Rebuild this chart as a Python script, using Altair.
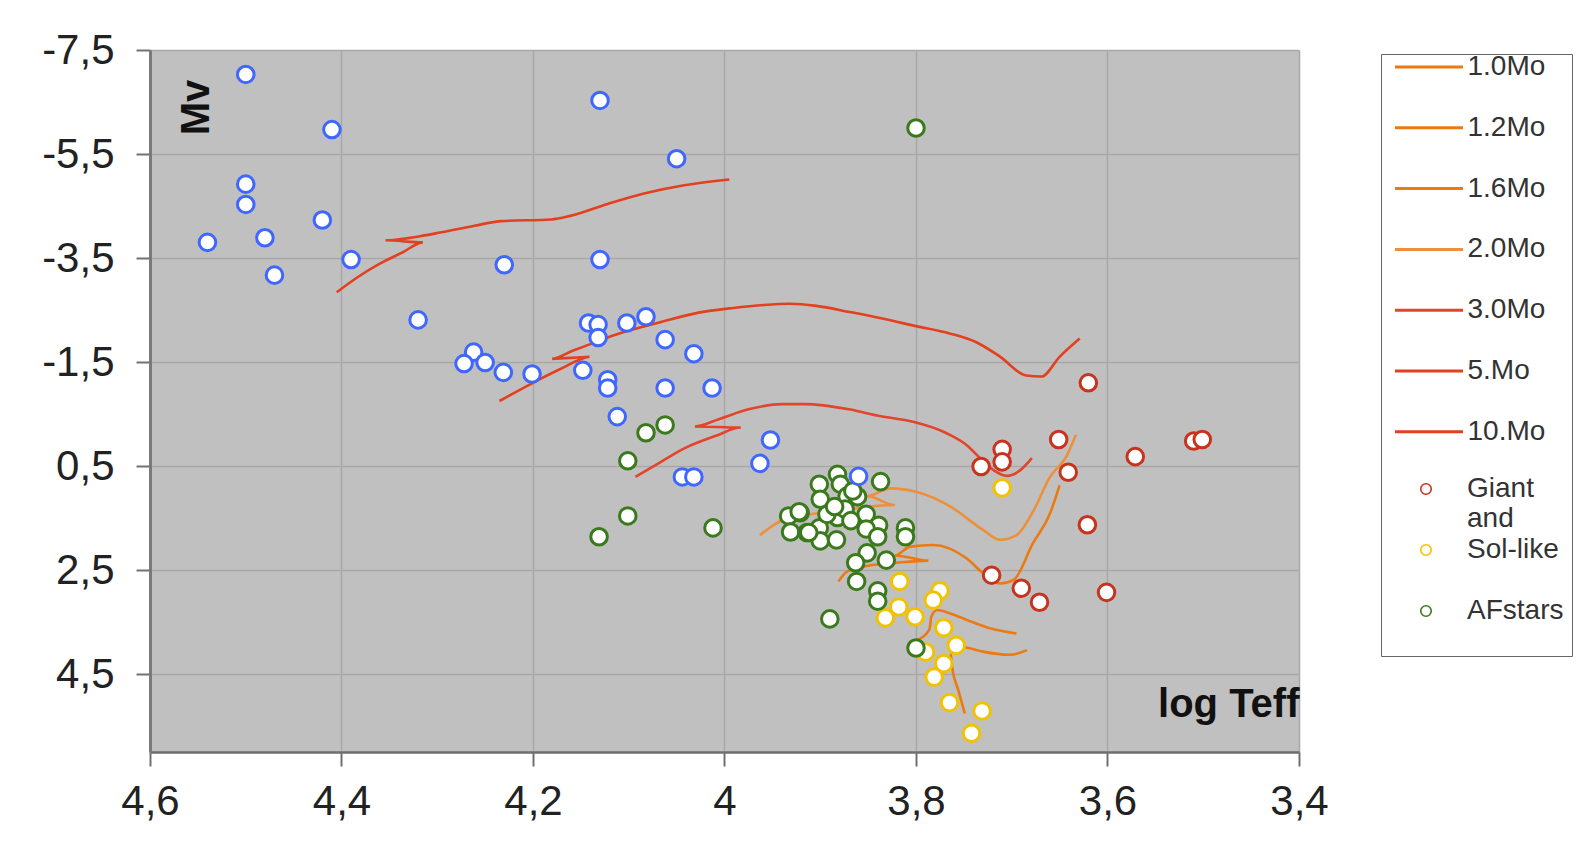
import altair as alt
import pandas as pd

# ---------------- data ----------------
track_names = ["1.0Mo", "1.2Mo", "1.6Mo", "2.0Mo", "3.0Mo", "5.Mo", "10.Mo"]
track_colors = ["#EC7A12", "#EC7A12", "#EC7A12", "#EE8F3C", "#E2452A", "#E2401F", "#E2401F"]

t10_logT = [4.405, 4.384, 4.360, 4.336, 4.315, 4.354, 4.318, 4.297, 4.261, 4.233, 4.181, 4.161, 4.122, 4.082, 4.042, 3.995]
t10_Mv = [-2.84, -3.12, -3.39, -3.61, -3.80, -3.84, -3.92, -3.99, -4.12, -4.21, -4.24, -4.31, -4.54, -4.75, -4.90, -5.01]

t5_logT = [4.235, 4.200, 4.172, 4.141, 4.180, 4.158, 4.145, 4.113, 4.068, 4.027, 3.991, 3.956, 3.932, 3.904, 3.869, 3.834, 3.800, 3.765, 3.737, 3.712, 3.685, 3.669, 3.650, 3.629]
t5_Mv = [-0.75, -1.10, -1.36, -1.60, -1.56, -1.72, -1.81, -2.03, -2.26, -2.45, -2.54, -2.60, -2.62, -2.58, -2.46, -2.33, -2.19, -2.05, -1.88, -1.60, -1.24, -1.22, -1.60, -1.95]

t3_logT = [4.093, 4.068, 4.044, 4.009, 3.983, 4.031, 4.006, 3.975, 3.940, 3.916, 3.870, 3.838, 3.803, 3.768, 3.747, 3.733, 3.719, 3.705, 3.691, 3.679]
t3_Mv = [0.71, 0.44, 0.18, -0.08, -0.24, -0.26, -0.40, -0.59, -0.69, -0.69, -0.59, -0.46, -0.35, -0.13, 0.10, 0.35, 0.58, 0.69, 0.58, 0.35]

t20_logT = [3.963, 3.939, 3.900, 3.860, 3.822, 3.851, 3.827, 3.799, 3.764, 3.730, 3.712, 3.695, 3.677, 3.660, 3.643, 3.633]
t20_Mv = [1.83, 1.54, 1.40, 1.30, 1.25, 1.08, 0.93, 1.00, 1.28, 1.73, 1.92, 1.83, 1.35, 0.71, 0.32, -0.10]

t16_logT = [3.881, 3.872, 3.850, 3.820, 3.787, 3.822, 3.806, 3.782, 3.747, 3.730, 3.712, 3.698, 3.678, 3.660, 3.650]
t16_Mv = [2.72, 2.53, 2.42, 2.36, 2.32, 2.22, 2.05, 2.02, 2.28, 2.56, 2.76, 2.69, 1.99, 1.41, 0.87]

t12_logT = [3.799, 3.786, 3.784, 3.778, 3.765, 3.747, 3.723, 3.695]
t12_Mv = [3.85, 3.64, 3.40, 3.27, 3.33, 3.46, 3.62, 3.72]

t10s_logT = [3.749, 3.756, 3.762, 3.764, 3.758, 3.745, 3.730, 3.702, 3.684]
t10s_Mv = [5.26, 4.80, 4.40, 4.10, 3.97, 4.00, 4.07, 4.13, 4.04]

track_logT = [t10s_logT, t12_logT, t16_logT, t20_logT, t3_logT, t5_logT, t10_logT]
track_Mv = [t10s_Mv, t12_Mv, t16_Mv, t20_Mv, t3_Mv, t5_Mv, t10_Mv]

blue_logT = [4.50, 4.41, 4.13, 4.05, 4.50, 4.50, 4.42, 4.54, 4.48, 4.47, 4.39, 4.23, 4.13, 4.32,
             4.142, 4.132, 4.132, 4.102, 4.082, 4.062, 4.032, 4.262, 4.272, 4.25, 4.231, 4.201,
             4.148, 4.122, 4.122, 4.062, 4.013, 4.112, 3.952, 3.963, 4.044, 4.032, 3.860]
blue_Mv = [-7.03, -5.97, -6.53, -5.41, -4.92, -4.53, -4.23, -3.80, -3.89, -3.17, -3.47, -3.37, -3.47, -2.31,
           -2.25, -2.22, -1.97, -2.25, -2.37, -1.93, -1.66, -1.69, -1.47, -1.49, -1.30, -1.27,
           -1.34, -1.16, -1.00, -1.00, -1.00, -0.45, 0.00, 0.45, 0.71, 0.71, 0.70]

giant_logT = [3.620, 3.651, 3.571, 3.510, 3.501, 3.710, 3.710, 3.732, 3.641, 3.621, 3.721, 3.690, 3.671, 3.601]
giant_Mv = [-1.10, -0.01, 0.32, 0.02, -0.01, 0.18, 0.42, 0.51, 0.62, 1.63, 2.60, 2.85, 3.12, 2.93]

sol_logT = [3.710, 3.817, 3.775, 3.782, 3.818, 3.832, 3.801, 3.771, 3.758, 3.790, 3.771, 3.781, 3.765, 3.731, 3.742]
sol_Mv = [0.92, 2.72, 2.90, 3.08, 3.21, 3.42, 3.40, 3.61, 3.95, 4.08, 4.30, 4.56, 5.05, 5.21, 5.64]

af_logT = [3.800, 4.082, 4.062, 4.101, 4.101, 4.131, 4.012, 3.837, 3.890, 3.800,
           3.882, 3.879, 3.901, 3.900, 3.872, 3.861, 3.921, 3.933, 3.931, 3.914, 3.901, 3.900,
           3.883, 3.882, 3.893, 3.852, 3.839, 3.852, 3.840, 3.851, 3.863, 3.831, 3.862, 3.840,
           3.840, 3.811, 3.811, 3.922, 3.912, 3.874, 3.885, 3.866, 3.868]
af_Mv = [-6.00, -0.14, -0.29, 0.40, 1.46, 1.86, 1.69, 0.80, 3.44, 4.00,
         0.66, 0.85, 0.85, 1.14, 1.08, 1.09, 1.40, 1.46, 1.77, 1.78, 1.69, 1.94,
         1.92, 1.49, 1.43, 1.43, 1.64, 1.71, 1.86, 2.17, 2.36, 2.31, 2.72, 2.90,
         3.10, 1.69, 1.86, 1.38, 1.78, 1.33, 1.28, 0.98, 1.55]

point_names = ["Giant and", "Sol-like", "AFstars"]
point_colors = ["#C8331E", "#F2C200", "#3B7A1C"]
blue_color = "#3F67FF"

x_ticks = [4.6, 4.4, 4.2, 4.0, 3.8, 3.6, 3.4]
y_ticks = [-7.5, -5.5, -3.5, -1.5, 0.5, 2.5, 4.5]

# ---------------- tables ----------------
rows = []
for name, lt, mv in zip(track_names, track_logT, track_Mv):
    for i, (a, b) in enumerate(zip(lt, mv)):
        rows.append({"series": name, "logT": a, "Mv": b, "idx": i})
tracks = pd.DataFrame(rows)

prow = []
for name, lt, mv in [("Sol-like", sol_logT, sol_Mv), ("Giant and", giant_logT, giant_Mv), ("AFstars", af_logT, af_Mv)]:
    for a, b in zip(lt, mv):
        prow.append({"group": name, "logT": a, "Mv": b})
points = pd.DataFrame(prow)
blue = pd.DataFrame({"logT": blue_logT, "Mv": blue_Mv})

W, H = 1149, 702
FONT = "Liberation Sans"

legend_lines = alt.Legend(
    title=" ", titleOrient="bottom", titleFontSize=24, titlePadding=183,
    orient="none", legendX=1231, legendY=4, direction="vertical",
    strokeColor="#666666", padding=3,
    symbolOffset=9.5, clipHeight=20, rowPadding=32.8,
    symbolSize=4624, symbolStrokeWidth=3, symbolType="stroke",
    labelFont=FONT, labelFontSize=28, labelColor="#333333", labelOffset=3, labelLimit=300,
    labelExpr="datum.label + '   \u200b'",
)
legend_pts = alt.Legend(
    title=None, orient="none", legendX=1256, legendY=429, direction="vertical",
    padding=0, symbolOffset=6, clipHeight=20, rowPadding=3,
    symbolSize=110, symbolStrokeWidth=1.6, symbolType="circle", symbolFillColor="white",
    labelFont=FONT, labelFontSize=28, labelColor="#333333", labelOffset=27, labelLimit=300,
    labelExpr="datum.label == 'Giant and' ? ['Giant', 'and'] : [datum.label, '']",
)

xaxis = alt.Axis(
    values=x_ticks, labelExpr="replace(toString(datum.value), '.', ',')",
    title="log Teff", titleX=W, titleY=-36, titleAlign="right", titleBaseline="alphabetic",
    titleAngle=0, titleFont=FONT, titleFontSize=40, titleFontWeight="bold", titleColor="#111111",
    labelFont=FONT, labelFontSize=42, labelColor="#222222", labelPadding=15, labelFlush=False,
    tickSize=14, tickColor="#707070", tickWidth=2, domainColor="#6E6E6E", domainWidth=2.5,
    grid=True, gridColor="#A8A8A8", gridWidth=1.5,
)
yaxis = alt.Axis(
    values=y_ticks, labelExpr="replace(toString(datum.value), '.', ',')",
    title="Mv", titleX=58, titleY=57, titleAngle=270, titleAlign="center", titleBaseline="alphabetic",
    titleFont=FONT, titleFontSize=40, titleFontWeight="bold", titleColor="#111111",
    labelFont=FONT, labelFontSize=42, labelColor="#222222", labelPadding=22, labelFlush=False,
    tickSize=14, tickColor="#707070", tickWidth=2, domainColor="#7A7A7A", domainWidth=3,
    grid=True, gridColor="#A8A8A8", gridWidth=1.5,
)

xs = alt.Scale(domain=[3.4, 4.6], reverse=True, nice=False, zero=False)
ys = alt.Scale(domain=[-7.5, 6.0], reverse=True, nice=False, zero=False)

lines = alt.Chart(tracks).mark_line(strokeWidth=2.6, interpolate="monotone").encode(
    x=alt.X("logT:Q", scale=xs, axis=xaxis),
    y=alt.Y("Mv:Q", scale=ys, axis=yaxis),
    color=alt.Color("series:N", scale=alt.Scale(domain=track_names, range=track_colors), legend=legend_lines),
    order=alt.Order("idx:Q"),
)

pts = alt.Chart(points).mark_point(filled=False, fill="white", strokeWidth=3, size=275, opacity=1).encode(
    x=alt.X("logT:Q", scale=xs, axis=xaxis),
    y=alt.Y("Mv:Q", scale=ys, axis=yaxis),
    stroke=alt.Stroke("group:N", scale=alt.Scale(domain=point_names, range=point_colors), legend=legend_pts),
)

bpts = alt.Chart(blue).mark_point(filled=False, fill="white", stroke=blue_color, strokeWidth=3, size=275, opacity=1).encode(
    x=alt.X("logT:Q", scale=xs, axis=xaxis),
    y=alt.Y("Mv:Q", scale=ys, axis=yaxis),
)

chart = alt.layer(lines, pts, bpts).properties(
    width=W, height=H,
    padding={"left": 150, "top": 50, "right": 282, "bottom": 102},
    autosize=alt.AutoSizeParams(type="none"),
    background="white",
).configure_view(
    fill="#C0C0C0", stroke=None,
)

chart.save("out.html", embed_options={"renderer": "svg", "actions": False})
